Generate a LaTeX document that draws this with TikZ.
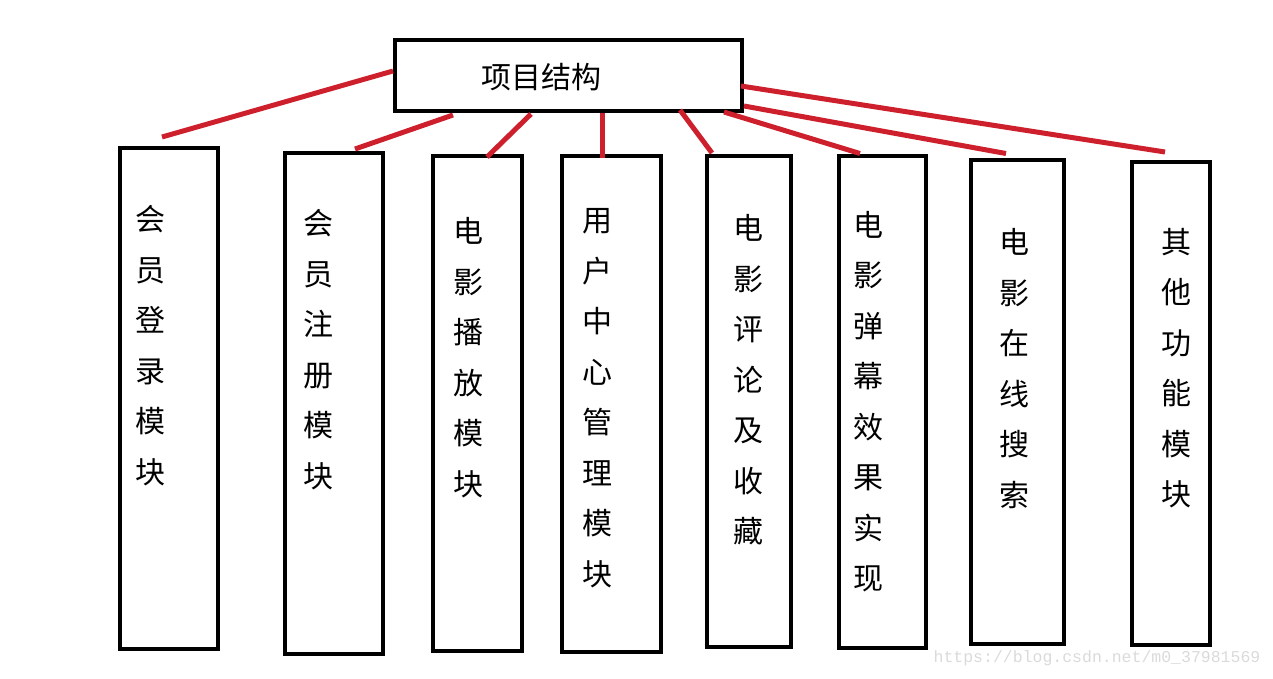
\documentclass[tikz,border=0pt]{standalone}
\usepackage{fontspec}
\newfontfamily\cjk{Noto Sans CJK SC}
\newfontfamily\markfont{Liberation Mono}
\usepackage{tikz}
\usetikzlibrary{positioning}
\definecolor{linkred}{RGB}{205,32,44}
\definecolor{markgray}{RGB}{218,218,218}

\begin{document}
\begin{tikzpicture}[x=1pt, y=-1pt,
        modbox/.style={rectangle, draw=black, line width=4pt, inner sep=0pt},
        modtext/.style={font=\cjk\fontsize{30pt}{50.5pt}\selectfont, align=center, inner sep=0pt},
        link/.style={draw=linkred, line width=5pt}]

        \useasboundingbox (0,0) rectangle (1273,678);

        \node[modbox, minimum width=347pt, minimum height=71pt] (top) at (568.5,75.5) {};
        \node[modtext, xshift=-27pt, yshift=-1.5pt] (title) at (top.center) {项目结构};

        \node[modbox, minimum width=98pt, minimum height=501pt] (m1) at (169,398.5) {};
        \node[modbox, minimum width=98pt, minimum height=501pt] (m2) [right=63pt of m1, yshift=-5pt] {};
        \node[modbox, minimum width=89pt, minimum height=495pt] (m3) [right=46pt of m2] {};
        \node[modbox, minimum width=99pt, minimum height=496pt] (m4) [right=36pt of m3] {};
        \node[modbox, minimum width=84pt, minimum height=491pt] (m5) [right=42pt of m4, yshift=2pt] {};
        \node[modbox, minimum width=87pt, minimum height=492pt] (m6) [right=44pt of m5] {};
        \node[modbox, minimum width=93pt, minimum height=484pt] (m7) [right=41pt of m6] {};
        \node[modbox, minimum width=78pt, minimum height=483pt] (m8) [right=64pt of m7, yshift=-2pt] {};

        \node[modtext, xshift=-19pt, yshift=53pt] (t1) at (m1.center) {会\\员\\登\\录\\模\\块};
        \node[modtext, xshift=-16pt, yshift=54pt] (t2) at (m2.center) {会\\员\\注\\册\\模\\块};
        \node[modtext, xshift=-9.5pt, yshift=46pt] (t3) at (m3.center) {电\\影\\播\\放\\模\\块};
        \node[modtext, xshift=-14.5pt, yshift=5.5pt] (t4) at (m4.center) {用\\户\\中\\心\\管\\理\\模\\块};
        \node[modtext, xshift=-1pt, yshift=21.5pt] (t5) at (m5.center) {电\\影\\评\\论\\及\\收\\藏};
        \node[modtext, xshift=-14.5pt] (t6) at (m6.center) {电\\影\\弹\\幕\\效\\果\\实\\现};
        \node[modtext, xshift=-3.5pt, yshift=33pt] (t7) at (m7.center) {电\\影\\在\\线\\搜\\索};
        \node[modtext, xshift=5pt, yshift=35.5pt] (t8) at (m8.center) {其\\他\\功\\能\\模\\块};

        \draw[link] ([yshift=4.5pt]top.west) -- ([xshift=-7pt, yshift=9pt]m1.north);
        \draw[link] ([xshift=60pt, yshift=-2pt]top.south west) -- ([xshift=21pt, yshift=2pt]m2.north);
        \draw[link] ([xshift=-37.5pt, yshift=-1pt]top.south) -- ([xshift=9.5pt, yshift=-3pt]m3.north);
        \draw[link] ([xshift=33.5pt]top.south) -- ([xshift=-9.5pt, yshift=-4pt]m4.north);
        \draw[link] ([xshift=111.5pt, yshift=3pt]top.south) -- ([xshift=-37pt, yshift=1pt]m5.north);
        \draw[link] ([xshift=-20pt, yshift=1pt]top.south east) -- ([xshift=-22.5pt]m6.north);
        \draw[link] ([yshift=7pt]top.south east) -- ([xshift=-11.5pt, yshift=4pt]m7.north);
        \draw[link] ([xshift=-3pt, yshift=-10.5pt]top.east) -- ([xshift=-6pt, yshift=8pt]m8.north);

        \node[font=\markfont\fontsize{16.5pt}{16.5pt}\selectfont, text=markgray, inner sep=0pt] (mark) at (1097,658) {https://blog.csdn.net/m0\_37981569};

\end{tikzpicture}
\end{document}
